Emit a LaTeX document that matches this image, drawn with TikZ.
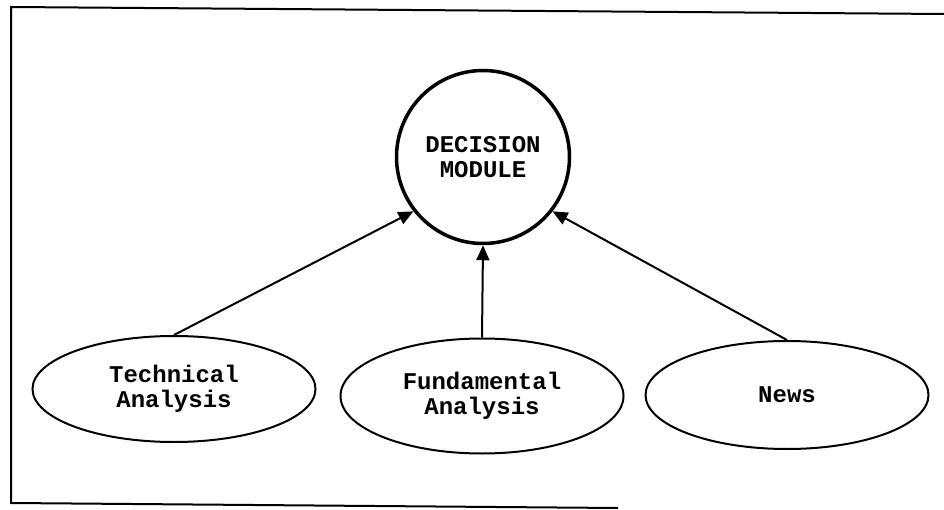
\documentclass[tikz,border=0pt]{standalone}
\usepackage{fontspec}
\setmonofont{Liberation Mono}
\usetikzlibrary{shapes.geometric,arrows.meta}
\newcommand{\labelfont}{\ttfamily\bfseries\fontsize{24}{25}\selectfont}
\newcommand{\linesize}{2pt}

\begin{document}
\begin{tikzpicture}[x=1pt,y=-1pt,
    source/.style={draw, ellipse, line width=\linesize, minimum width=283pt, align=center, font=\labelfont},
    feed/.style={line width=\linesize, -{Triangle[length=15pt,width=13pt]}}]
  \useasboundingbox (0,0) rectangle (944,510);
  % frame
  \draw[line width=\linesize] (944,14) -- (11,7) -- (11,503) -- (618,508);

  % decision module
  \node (dec) at (483,157) [draw, circle, line width=3.5pt, minimum size=173pt, align=center, font=\labelfont] {DECISION\\MODULE};

  % inputs
  \node (tech) at (174,389) [source, minimum height=106pt] {Technical\\Analysis};
  \node (fund) at (482,396) [source, minimum height=115pt] {Fundamental\\Analysis};
  \node (news) at (787,395) [source, minimum height=108pt] {News};

  \draw[feed] (tech.north) to (dec.218);
  \draw[feed] (fund.north) to (dec.south);
  \draw[feed] (news.north) to (dec.322);
\end{tikzpicture}
\end{document}
